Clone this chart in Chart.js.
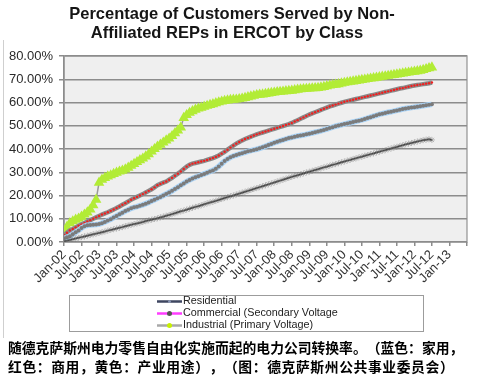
<!DOCTYPE html>
<html><head><meta charset="utf-8">
<script src="https://cdn.jsdelivr.net/npm/chart.js@4"></script>
<style>
html,body{margin:0;padding:0;background:#fff;width:479px;height:376px;overflow:hidden}
#wrap{position:relative;width:479px;height:376px}
#c{position:absolute;left:0;top:0}
#cap{position:absolute;left:0;top:338px;width:479px;height:38px;background:#fff;font-family:"Noto Sans CJK SC";font-weight:bold;font-size:13.8px;line-height:19px;padding-left:8px;white-space:nowrap;color:#000;box-sizing:border-box;text-spacing-trim:space-all}
#cap span{letter-spacing:0.6px}
</style></head><body>
<div id="wrap"><canvas id="c" width="479" height="376"></canvas>
<div id="cap">随德克萨斯州电力零售自由化实施而起的电力公司转换率。（蓝色：家用，<br><span>红色：商用，黄色：产业用途），（图：德克萨斯州公共事业委员会）</span></div></div>
<script>
const titleLines = ['Percentage of Customers Served by Non-', 'Affiliated REPs in ERCOT by Class'];
const tickLabels = ['Jan-02','Jul-02','Jan-03','Jul-03','Jan-04','Jul-04','Jan-05','Jul-05','Jan-06','Jul-06','Jan-07','Jul-07','Jan-08','Jul-08','Jan-09','Jul-09','Jan-10','Jul-10','Jan-11','Jul-11','Jan-12','Jul-12','Jan-13'];
const seriesNames = ['Residential', 'Commercial (Secondary Voltage', 'Industrial (Primary Voltage)'];
// monthly values, Jan-02 .. Jul-12 (%)
const industrial = [
 4.5,6.5,8.1,8.9,9.6,10.1,10.9,11.8,12.7,14.0,15.8,18.2,
 25.5,26.8,27.6,28.2,28.7,29.3,29.8,30.3,30.7,31.2,32.0,32.8,
 33.6,34.4,35.2,35.9,36.8,37.8,38.9,40.0,41.0,41.9,42.8,43.7,
 44.5,45.6,46.8,48.0,49.3,53.4,54.6,55.6,56.3,56.9,57.4,57.8,
 58.2,58.6,59.0,59.3,59.7,60.1,60.4,60.7,60.9,61.1,61.2,61.3,
 61.5,61.7,62.0,62.3,62.6,62.9,63.2,63.4,63.5,63.7,63.9,64.1,
 64.3,64.5,64.6,64.7,64.9,65.0,65.1,65.3,65.5,65.7,65.8,65.9,
 66.0,66.1,66.2,66.3,66.5,66.7,67.0,67.3,67.5,67.7,67.9,68.2,
 68.5,68.7,68.9,69.1,69.3,69.5,69.7,69.9,70.1,70.3,70.5,70.7,
 70.9,71.1,71.3,71.5,71.7,71.9,72.1,72.3,72.5,72.7,72.9,73.1,
 73.3,73.5,73.7,74.0,74.4,74.8,75.1];
const commercial = [
 3.0,4.0,5.0,5.6,6.3,7.0,7.6,8.2,8.8,9.4,10.0,10.6,
 11.2,11.8,12.3,12.8,13.4,14.0,14.6,15.3,16.0,16.7,17.4,18.2,
 18.8,19.4,20.0,20.6,21.3,22.0,22.7,23.5,24.4,25.0,25.5,26.0,
 26.8,27.6,28.5,29.4,30.3,31.4,32.4,33.2,33.7,34.0,34.3,34.6,
 34.9,35.3,35.7,36.1,36.6,37.2,38.0,38.8,39.7,40.6,41.5,42.3,
 43.0,43.7,44.3,44.8,45.3,45.8,46.3,46.7,47.1,47.5,47.9,48.3,
 48.7,49.1,49.5,49.9,50.3,50.7,51.2,51.8,52.4,53.0,53.6,54.2,
 54.8,55.3,55.8,56.3,56.8,57.3,57.8,58.3,58.7,59.1,59.5,59.9,
 60.3,60.6,60.9,61.2,61.5,61.8,62.1,62.4,62.7,63.0,63.3,63.6,
 63.9,64.2,64.5,64.8,65.1,65.4,65.7,66.0,66.2,66.5,66.8,67.1,
 67.3,67.5,67.7,67.9,68.1,68.3,68.6];
const blueSeries = [
 1.6,2.0,2.5,3.3,4.2,5.0,6.0,6.8,7.2,7.3,7.4,7.5,
 7.7,8.1,8.6,9.2,9.8,10.5,11.2,11.9,12.6,13.3,13.9,14.5,
 14.9,15.2,15.6,16.0,16.5,17.0,17.6,18.2,18.8,19.4,20.0,20.6,
 21.3,22.0,22.8,23.6,24.4,25.2,26.0,26.7,27.3,27.8,28.3,28.8,
 29.3,29.8,30.3,30.8,31.5,32.5,33.7,34.8,35.7,36.4,37.0,37.4,
 37.8,38.2,38.6,39.0,39.3,39.6,39.9,40.3,40.7,41.2,41.7,42.2,
 42.7,43.1,43.5,43.9,44.3,44.7,45.0,45.3,45.6,45.8,46.0,46.3,
 46.6,46.9,47.2,47.5,47.8,48.2,48.6,49.0,49.4,49.8,50.1,50.4,
 50.7,51.0,51.3,51.6,51.9,52.2,52.5,52.9,53.3,53.7,54.1,54.5,
 54.9,55.2,55.5,55.8,56.0,56.3,56.6,56.9,57.2,57.4,57.6,57.8,
 58.0,58.2,58.4,58.6,58.8,59.0,59.2];
const residential = [
 0.3,0.6,0.9,1.2,1.5,1.8,2.1,2.4,2.7,3.0,3.3,3.6,
 3.9,4.2,4.5,4.9,5.2,5.5,5.8,6.1,6.4,6.8,7.1,7.4,
 7.7,8.0,8.3,8.6,9.0,9.3,9.6,9.9,10.2,10.6,10.9,11.3,
 11.6,12.0,12.4,12.8,13.2,13.5,13.9,14.3,14.7,15.1,15.4,15.8,
 16.2,16.6,17.0,17.3,17.7,18.1,18.5,18.9,19.3,19.7,20.0,20.4,
 20.8,21.2,21.6,22.0,22.4,22.8,23.2,23.6,24.0,24.4,24.8,25.2,
 25.6,26.0,26.4,26.8,27.2,27.6,28.0,28.4,28.7,29.1,29.5,29.9,
 30.2,30.6,31.0,31.3,31.7,32.1,32.4,32.8,33.2,33.5,33.9,34.3,
 34.6,35.0,35.3,35.7,36.0,36.4,36.7,37.1,37.4,37.8,38.1,38.5,
 38.8,39.2,39.5,39.9,40.2,40.6,40.9,41.3,41.6,42.0,42.3,42.6,
 42.9,43.2,43.5,43.8,44.0,44.2,43.9];

const toPts = arr => arr.map((v, i) => ({x: i, y: v}));

const decor = {
  id: 'decor',
  beforeDraw(chart) {
    const c = chart.ctx, a = chart.chartArea;
    c.save();
    c.fillStyle = '#fff'; c.fillRect(0, 0, chart.width, chart.height);
    c.fillStyle = '#efefef'; c.fillRect(a.left, a.top, a.right - a.left, a.bottom - a.top);
    c.strokeStyle = '#a6a6a6'; c.lineWidth = 1.5;
    c.strokeRect(a.left, a.top, a.right - a.left, a.bottom - a.top);
    c.strokeStyle = '#cfcfcf'; c.lineWidth = 1;
    c.beginPath(); c.moveTo(3.5, 40); c.lineTo(3.5, 338); c.stroke();
    c.restore();
  },
  afterDraw(chart) {
    const c = chart.ctx;
    c.save();
    c.fillStyle = '#151515';
    c.font = 'bold 16.5px "Liberation Sans"';
    c.textAlign = 'center'; c.textBaseline = 'middle';
    c.fillText(titleLines[0], 232, 14);
    c.fillText(titleLines[1], 227, 33);
    // legend box
    c.strokeStyle = '#9c9c9c'; c.lineWidth = 1;
    c.fillStyle = '#fff';
    c.fillRect(69.5, 295.5, 354, 36);
    c.strokeRect(69.5, 295.5, 354, 36);
    const leg = [
      {line: '#3e4660', mark: '#8a96b4', ys: 301.5},
      {line: '#ff3cff', mark: '#555', ys: 313.5},
      {line: '#a8a8a8', mark: '#c6f000', ys: 325.5}
    ];
    c.font = '10.8px "Liberation Sans"';
    c.textAlign = 'left';
    leg.forEach((e, i) => {
      c.strokeStyle = e.line; c.lineWidth = 2.5;
      c.beginPath(); c.moveTo(157, e.ys); c.lineTo(182, e.ys); c.stroke();
      c.fillStyle = e.mark;
      c.beginPath(); c.arc(169.5, e.ys, i === 0 ? 1.5 : 2.5, 0, Math.PI * 2); c.fill();
      c.fillStyle = '#222';
      c.fillText(seriesNames[i], 183, e.ys);
    });
    c.restore();
  }
};

new Chart(document.getElementById('c'), {
  type: 'line',
  data: {
    datasets: [
      {label: seriesNames[0], data: toPts(residential), borderColor: '#1c1c1c', borderWidth: 1.5,
       pointStyle: 'star', pointRadius: 3, pointBorderColor: 'rgba(110,110,110,0.45)', pointBorderWidth: 1, pointBackgroundColor: 'rgba(0,0,0,0)'},
      {label: '', data: toPts(blueSeries), borderColor: '#a9d2f5', borderWidth: 5.5,
       pointRadius: 2, pointBackgroundColor: '#7b7b7b', pointBorderWidth: 0},
      {label: seriesNames[1], data: toPts(commercial), borderColor: '#8a8a8a', borderWidth: 4.5,
       pointRadius: 1.2, pointBackgroundColor: '#ee2020', pointBorderWidth: 0},
      {label: seriesNames[2], data: toPts(industrial), borderColor: '#9a9a9a', borderWidth: 1.5,
       pointStyle: 'triangle', pointRadius: 2.6, pointBackgroundColor: '#f0e00c', pointBorderColor: '#b2ec36', pointBorderWidth: 3.5}
    ]
  },
  options: {
    responsive: false, animation: false, devicePixelRatio: 1,
    layout: {padding: {left: 4, right: 7, top: 56, bottom: 84}},
    plugins: {legend: {display: false}, tooltip: {enabled: false}, title: {display: false}},
    elements: {line: {tension: 0}},
    scales: {
      x: {
        type: 'linear', min: 0, max: 138,
        afterFit: s => { s.height = 50; },
        ticks: {stepSize: 6, autoSkip: false, maxRotation: 45, minRotation: 45, padding: 1,
          font: {family: 'Liberation Sans', size: 13}, color: '#333',
          callback: v => (v % 6 === 0 && v / 6 < tickLabels.length) ? tickLabels[v / 6] : ''},
        grid: {drawOnChartArea: false, drawTicks: true, tickLength: 4, color: '#8c8c8c', lineWidth: 1.5},
        border: {display: false}
      },
      y: {
        min: 0, max: 80,
        afterFit: s => { s.width = 60; },
        ticks: {stepSize: 10, padding: 6, font: {family: 'Liberation Sans', size: 13}, color: '#2a2a2a',
          callback: v => v.toFixed(2) + '%'},
        grid: {color: '#8c8c8c', lineWidth: 1.5, tickLength: 5},
        border: {color: '#8c8c8c', width: 1.5}
      }
    }
  },
  plugins: [decor]
});
</script>
</body></html>
